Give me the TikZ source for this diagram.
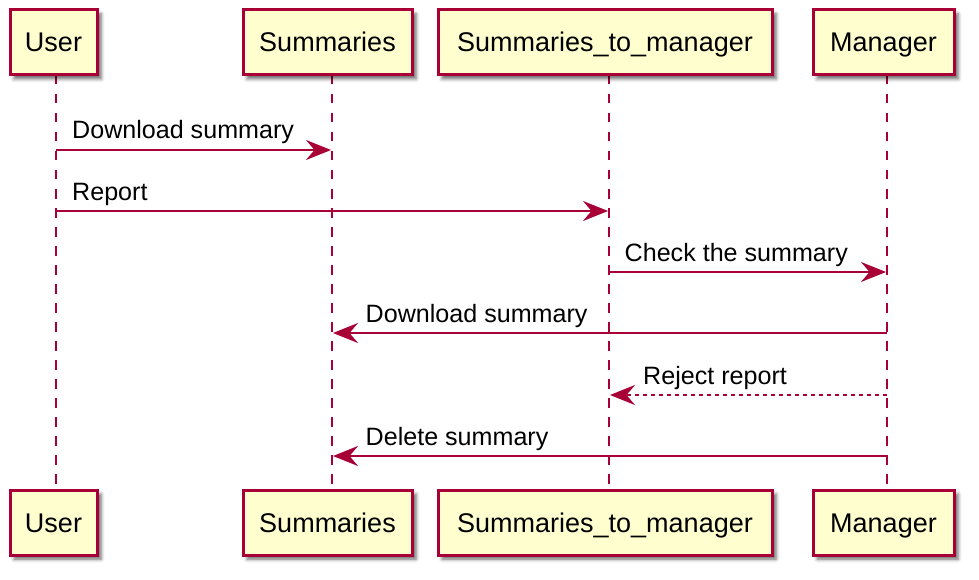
\documentclass[tikz,border=0pt]{standalone}
\usepackage{fontspec}
\setmainfont{Liberation Sans}
\usetikzlibrary{arrows.meta,shadows.blur}
\definecolor{pcrim}{HTML}{A80036}
\definecolor{pfill}{HTML}{FEFECE}
\begin{document}
\begin{tikzpicture}[x=1pt,y=-1pt,
  part/.style={draw=pcrim,line width=3pt,fill=pfill,minimum height=65pt,
    inner sep=0pt,text height=19pt,text depth=0pt,
    font=\fontsize{27}{32}\selectfont,
    blur shadow={shadow xshift=4pt,shadow yshift=-4pt,shadow blur radius=3.5pt,shadow opacity=60}},
  lifeline/.style={draw=pcrim,line width=2pt,dash pattern=on 9.5pt off 9.5pt},
  msg/.style={draw=pcrim,line width=2pt,
    -{Stealth[length=25pt,width=20pt,inset=8.5pt,fill=pcrim]}},
  rmsg/.style={msg,dash pattern=on 4pt off 4pt},
  lbl/.style={anchor=base west,inner sep=0pt,font=\fontsize{25.1}{30}\selectfont}]
\useasboundingbox (0,0) rectangle (979,580);
% lifeline end points
\coordinate (uT) at (56,75);   \coordinate (uB) at (56,490);
\coordinate (sT) at (332,75);  \coordinate (sB) at (332,490);
\coordinate (mT) at (609,75);  \coordinate (mB) at (609,490);
\coordinate (gT) at (887,75);  \coordinate (gB) at (887,490);
\draw[lifeline] (uT) -- (uB);
\draw[lifeline] (sT) -- (sB);
\draw[lifeline] (mT) -- (mB);
\draw[lifeline] (gT) -- (gB);
% participants
\node[part,minimum width=87pt]  (user1) at (53.5,42.5)  {User};
\node[part,minimum width=169pt] (sum1)  at (327.5,42.5) {Summaries};
\node[part,minimum width=334pt] (stm1)  at (605,42.5)   {Summaries\_to\_manager};
\node[part,minimum width=141pt] (man1)  at (883.5,42.5) {Manager};
\node[part,minimum width=87pt]  (user2) at (53.5,522.5)  {User};
\node[part,minimum width=169pt] (sum2)  at (327.5,522.5) {Summaries};
\node[part,minimum width=334pt] (stm2)  at (605,522.5)   {Summaries\_to\_manager};
\node[part,minimum width=141pt] (man2)  at (883.5,522.5) {Manager};
% message rows
\coordinate (r1) at (0,150);
\coordinate (r2) at (0,211);
\coordinate (r3) at (0,272);
\coordinate (r4) at (0,333);
\coordinate (r5) at (0,395);
\coordinate (r6) at (0,456);
\draw[msg]  (uT |- r1) -- ([xshift=-1pt]sT |- r1);
\node[lbl] (l1) at (72,139) {Download summary};
\draw[msg]  (uT |- r2) -- ([xshift=-1pt]mT |- r2);
\node[lbl] (l2) at (72,200.3) {Report};
\draw[msg]  (mT |- r3) -- ([xshift=-1pt]gT |- r3);
\node[lbl] (l3) at (624.5,261.6) {Check the summary};
\draw[msg]  (gT |- r4) -- ([xshift=1pt]sT |- r4);
\node[lbl] (l4) at (365.5,322.9) {Download summary};
\draw[rmsg] (gT |- r5) -- ([xshift=1pt]mT |- r5);
\node[lbl] (l5) at (643,384.2) {Reject report};
\draw[msg]  (gT |- r6) -- ([xshift=1pt]sT |- r6);
\node[lbl] (l6) at (365.5,445.5) {Delete summary};
\end{tikzpicture}
\end{document}
